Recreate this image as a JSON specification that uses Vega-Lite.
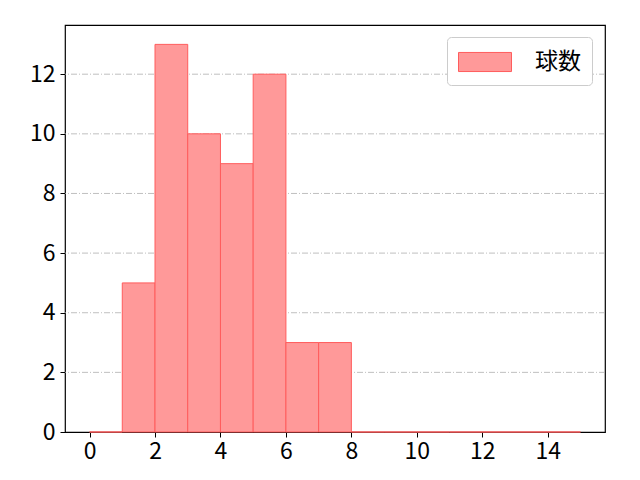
{
  "$schema": "https://vega.github.io/schema/vega-lite/v6.json",
  "width": 540,
  "height": 407,
  "autosize": {"type": "none"},
  "padding": {"left": 65, "top": 25, "right": 35, "bottom": 48},
  "config": {
    "font": "Noto Sans CJK JP",
    "view": {"stroke": "#000000", "strokeWidth": 1.2},
    "axis": {
      "labelFontSize": 23,
      "labelColor": "#000000",
      "tickColor": "#000000",
      "tickSize": 5,
      "domain": false,
      "title": null
    }
  },
  "data": {
    "values": [
      {"start": 0, "end": 1, "count": 0, "series": "球数"},
      {"start": 1, "end": 2, "count": 5, "series": "球数"},
      {"start": 2, "end": 3, "count": 13, "series": "球数"},
      {"start": 3, "end": 4, "count": 10, "series": "球数"},
      {"start": 4, "end": 5, "count": 9, "series": "球数"},
      {"start": 5, "end": 6, "count": 12, "series": "球数"},
      {"start": 6, "end": 7, "count": 3, "series": "球数"},
      {"start": 7, "end": 8, "count": 3, "series": "球数"},
      {"start": 8, "end": 9, "count": 0, "series": "球数"},
      {"start": 9, "end": 10, "count": 0, "series": "球数"},
      {"start": 10, "end": 11, "count": 0, "series": "球数"},
      {"start": 11, "end": 12, "count": 0, "series": "球数"},
      {"start": 12, "end": 13, "count": 0, "series": "球数"},
      {"start": 13, "end": 14, "count": 0, "series": "球数"},
      {"start": 14, "end": 15, "count": 0, "series": "球数"}
    ]
  },
  "layer": [
    {
      "mark": {"type": "rule", "stroke": "#b0b0b0", "strokeWidth": 0.8, "strokeDash": [6, 2, 1, 2]},
      "data": {"values": [{"y": 2}, {"y": 4}, {"y": 6}, {"y": 8}, {"y": 10}, {"y": 12}]},
      "encoding": {
        "y": {"field": "y", "type": "quantitative", "scale": {"domain": [0, 13.65], "nice": false, "zero": false}}
      }
    },
    {
      "mark": {"type": "bar", "fill": "#ff9999", "stroke": "#ff5c5c", "strokeWidth": 1},
      "encoding": {
        "x": {
          "field": "start",
          "type": "quantitative",
          "scale": {"domain": [-0.75, 15.75], "nice": false, "zero": false},
          "axis": {"values": [0, 2, 4, 6, 8, 10, 12, 14], "grid": false, "labelPadding": 3}
        },
        "x2": {"field": "end"},
        "y": {
          "field": "count",
          "type": "quantitative",
          "scale": {"domain": [0, 13.65], "nice": false, "zero": false},
          "axis": {"values": [0, 2, 4, 6, 8, 10, 12], "grid": false, "labelPadding": 5}
        },
        "y2": {"datum": 0},
        "color": {
          "field": "series",
          "type": "nominal",
          "scale": {"range": ["#ff9999"]},
          "legend": {
            "title": null,
            "orient": "none",
            "legendX": 382,
            "legendY": 12,
            "symbolType": "M-2,-0.72H2V0.72H-2Z",
            "symbolSize": 702,
            "symbolOffset": 13,
            "symbolStrokeColor": "#ff5c5c",
            "symbolStrokeWidth": 1,
            "symbolOpacity": 1,
            "labelFontSize": 23,
            "labelColor": "#000000",
            "labelOffset": 36,
            "padding": 11,
            "fillColor": "#ffffff",
            "strokeColor": "#cccccc",
            "cornerRadius": 4
          }
        }
      }
    }
  ]
}
